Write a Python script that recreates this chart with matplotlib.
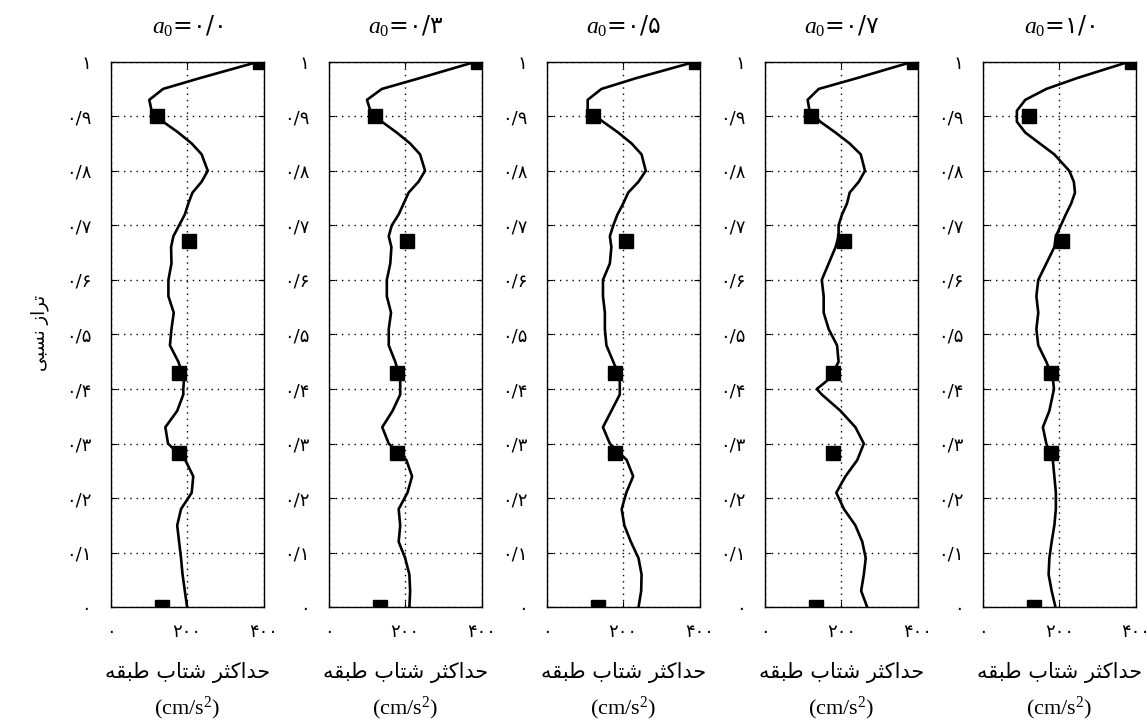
import numpy as np
import matplotlib
matplotlib.use("Agg")
from matplotlib import pyplot as plt

plt.rcParams["font.family"] = ["DejaVu Sans"]
plt.rcParams["mathtext.fontset"] = "custom"
plt.rcParams["mathtext.rm"] = "Liberation Serif"
plt.rcParams["mathtext.it"] = "Liberation Serif:italic"

# persian digits, "/" as decimal mark
FA = str.maketrans("0123456789.", "۰۱۲۳۴۵۶۷۸۹/")

def fa(s):
    return str(s).translate(FA)

# arabic presentation forms (logical order), reversed for display
xlabel_fa = "\uFEA3\uFEAA\uFE8D\uFB90\uFE9C\uFEAE \uFEB7\uFE98\uFE8E\uFE8F \uFEC3\uFE92\uFED8\uFEEA"[::-1]
ylabel_fa = "\uFE97\uFEAE\uFE8D\uFEAF \uFEE7\uFEB4\uFE92\uFBFD"[::-1]

a0_values = [0.0, 0.3, 0.5, 0.7, 1.0]

# relative height of floor
heights = [1.00, 0.97, 0.95, 0.93, 0.91, 0.89, 0.87, 0.85, 0.83, 0.80,
           0.78, 0.76, 0.74, 0.72, 0.70, 0.68, 0.66, 0.63, 0.60, 0.57,
           0.54, 0.51, 0.48, 0.45, 0.42, 0.40, 0.39, 0.36, 0.33, 0.30,
           0.27, 0.24, 0.21, 0.18, 0.15, 0.12, 0.09, 0.06, 0.03, 0.00]

# peak floor acceleration (cm/s2), computed curves
accel_a00 = [387, 234, 137, 101, 107, 137, 177, 212, 238, 254,
             238, 214, 203, 194, 179, 164, 158, 159, 151, 151,
             165, 159, 155, 177, 192, 190, 190, 174, 143, 150,
             195, 216, 212, 184, 174, 179, 184, 188, 194, 200]
accel_a03 = [385, 239, 139, 100, 109, 139, 178, 213, 239, 252,
             235, 209, 196, 183, 165, 157, 164, 161, 152, 152,
             163, 157, 157, 174, 187, 187, 187, 167, 140, 157,
             203, 218, 206, 183, 187, 183, 200, 211, 213, 211]
accel_a05 = [389, 235, 143, 107, 107, 147, 187, 222, 248, 259,
             240, 213, 200, 185, 174, 165, 169, 165, 147, 147,
             152, 152, 156, 174, 191, 191, 191, 169, 147, 165,
             209, 226, 208, 196, 203, 220, 240, 248, 247, 240]
accel_a07 = [387, 242, 141, 112, 117, 145, 185, 222, 251, 262,
             246, 222, 215, 202, 193, 193, 185, 167, 149, 154,
             154, 167, 189, 193, 171, 136, 149, 198, 237, 259,
             242, 211, 187, 207, 237, 255, 264, 259, 252, 268]
accel_a10 = [383, 247, 166, 111, 89, 89, 111, 149, 187, 226,
             238, 241, 231, 217, 204, 191, 187, 166, 145, 140,
             145, 140, 145, 166, 183, 186, 183, 174, 157, 166,
             183, 187, 191, 191, 187, 180, 174, 172, 180, 190]
accel_all = [accel_a00, accel_a03, accel_a05, accel_a07, accel_a10]

# measured values (squares)
meas_heights = [1.0, 0.9, 0.672, 0.43, 0.283, 0.0]
meas_accel = [390, 122, 206, 178, 178, 135]

x_ticks = [0, 200, 400]
y_ticks = [0.0, 0.1, 0.2, 0.3, 0.4, 0.5, 0.6, 0.7, 0.8, 0.9, 1.0]

def y_label(v):
    if v in (0.0, 1.0):
        return fa(int(v))
    return fa(f"{v:.1f}")

fig, axes = plt.subplots(1, 5, figsize=(11.47, 7.22), dpi=100)
fig.subplots_adjust(left=0.0965, right=0.9902, bottom=0.1589, top=0.9146, wspace=0.426)

for ax, a0, acc in zip(axes, a0_values, accel_all):
    ax.plot(acc, heights, color="black", lw=1.9, solid_joinstyle="round")
    ax.plot(meas_accel, meas_heights, "s", color="black", ms=10.5, zorder=3)

    ax.set_xlim(0, 400)
    ax.set_ylim(0, 1)
    ax.set_xticks(x_ticks)
    ax.set_xticklabels([fa(v) for v in x_ticks])
    ax.set_yticks(y_ticks)
    ax.set_yticklabels([y_label(v) for v in y_ticks])
    ax.grid(True, color="black", linestyle=(0, (1, 3.5)), lw=1)
    ax.tick_params(direction="in", length=4, top=True, right=True, labelsize=13)
    ax.tick_params(axis="y", pad=14)
    ax.tick_params(axis="x", pad=11)
    for s in ax.spines.values():
        s.set_linewidth(1)

    ax.text(0.5, 1.064, r"$a_0$=" + fa(f"{a0:.1f}"), transform=ax.transAxes,
            ha="center", va="center", fontsize=17, family="DejaVu Sans")
    ax.text(0.5, -0.119, xlabel_fa, transform=ax.transAxes,
            ha="center", va="center", fontsize=15)
    ax.text(0.5, -0.185, r"(cm/s$^2$)", transform=ax.transAxes,
            ha="center", va="center", fontsize=16, family="Liberation Serif")

fig.text(40 / 1147, 1 - 333 / 722, ylabel_fa, rotation=90,
         ha="center", va="center", fontsize=13)

plt.savefig("out.png", dpi=100)
plt.close()
